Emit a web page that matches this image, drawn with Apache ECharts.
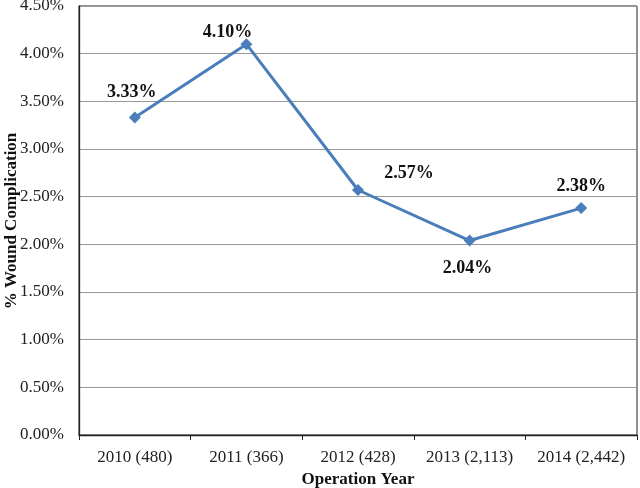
<!DOCTYPE html>
<html><head><meta charset="utf-8">
<script src="https://cdn.jsdelivr.net/npm/echarts@6/dist/echarts.min.js"></script>
<style>html,body{margin:0;padding:0;background:#fff}#c{width:640px;height:488px}</style>
</head><body><div id="c"></div>
<script>
const categories = ["2010 (480)", "2011 (366)", "2012 (428)", "2013 (2,113)", "2014 (2,442)"];
const values = [3.33, 4.10, 2.57, 2.04, 2.38];
const labelOffsets = [[-3, -25], [-19, -12], [51, -17], [-2, 28], [0, -22]];
const yTitle = '% Wound Complication';
const xTitle = 'Operation Year';

const font = "'Liberation Serif', 'Times New Roman', serif";
const chart = echarts.init(document.getElementById('c'), null, {renderer: 'canvas'});
chart.setOption({
  animation: false,
  backgroundColor: '#fff',
  grid: {left: 79, right: 3, top: 6, bottom: 53, show: true, borderColor: '#222', borderWidth: 1,
    containLabel: false, outerBoundsMode: 'none'},
  graphic: [{
    type: 'text', x: 12, y: 221, rotation: Math.PI / 2,
    style: {text: yTitle, align: 'center', verticalAlign: 'middle',
      font: "bold 17px 'Liberation Serif', 'Times New Roman', serif", fill: '#111'}
  }],
  xAxis: {
    type: 'category', data: categories, boundaryGap: true,
    name: xTitle, nameLocation: 'middle', nameGap: 36, nameMoveOverlap: false,
    nameTextStyle: {fontFamily: font, fontWeight: 'bold', fontSize: 17, color: '#111'},
    axisLine: {lineStyle: {color: '#222', width: 1.3}},
    axisTick: {show: true, alignWithLabel: false, length: 5, lineStyle: {color: '#222'}},
    axisLabel: {fontFamily: font, fontSize: 17, color: '#222', margin: 14, interval: 0, hideOverlap: false}
  },
  yAxis: {
    type: 'value', min: 0, max: 4.5, interval: 0.5,
    axisLine: {show: true, lineStyle: {color: '#222', width: 1.3}},
    axisTick: {show: false},
    splitLine: {lineStyle: {color: '#999', width: 1}},
    axisLabel: {fontFamily: font, fontSize: 17, color: '#222', margin: 15,
      formatter: v => v.toFixed(2) + '%'}
  },
  series: [{
    type: 'line',
    data: values.map((v, i) => ({
      value: v,
      label: {offset: labelOffsets[i]}
    })),
    symbol: 'diamond', symbolSize: 12,
    lineStyle: {color: '#4a7ebb', width: 3},
    itemStyle: {color: '#4a7ebb'},
    label: {show: true, position: 'inside', fontFamily: font, fontWeight: 'bold', fontSize: 18, color: '#111',
      formatter: p => p.value.toFixed(2) + '%'}
  }]
});
</script></body></html>
